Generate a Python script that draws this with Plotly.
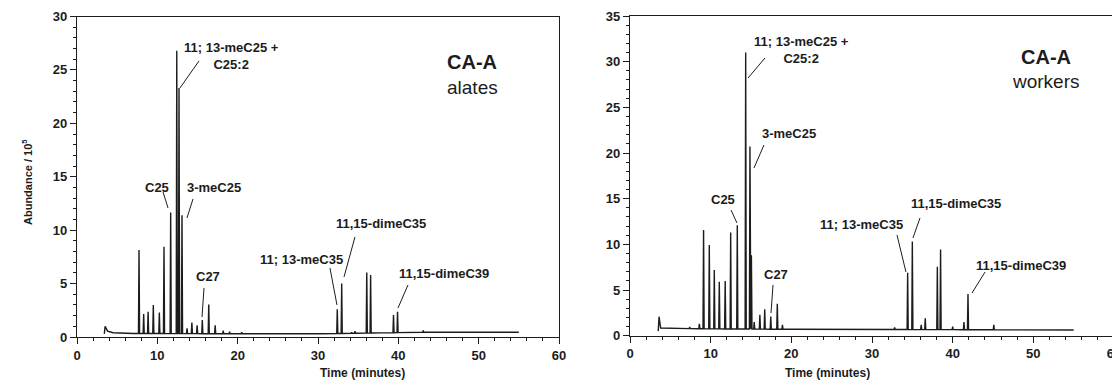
import numpy as np
import plotly.graph_objects as go

# ---------------- data ----------------
# CA-A alates chromatogram: peak retention times (min) and abundances (x10^5)
alates_peak_t = [7.72, 8.3, 8.85, 9.5, 10.25, 10.83, 11.66, 12.42, 12.7, 13.07,
                 13.7, 14.3, 14.95, 15.6, 16.4, 17.2, 18.2, 19.0, 20.5,
                 32.4, 32.95, 34.2, 34.6, 36.07, 36.55, 39.4, 39.9, 43.1]
alates_peak_h = [8.15, 2.15, 2.37, 3.0, 2.3, 8.45, 11.65, 26.8, 23.3, 11.4,
                 0.8, 1.35, 1.1, 1.6, 3.05, 1.1, 0.6, 0.5, 0.45,
                 2.6, 5.0, 0.45, 0.55, 6.03, 5.8, 2.06, 2.37, 0.6]
alates_base_t = [3.4, 3.5, 3.8, 4.5, 7.0, 20.0, 30.0, 35.0, 43.0, 55.0]
alates_base_v = [0.3, 1.0, 0.55, 0.4, 0.33, 0.3, 0.3, 0.35, 0.45, 0.45]

# CA-A workers chromatogram
workers_peak_t = [7.4, 8.6, 9.12, 9.83, 10.45, 11.07, 11.8, 12.48, 13.3, 14.34,
                  14.87, 15.05, 15.4, 16.1, 16.7, 17.45, 18.26, 18.9,
                  32.8, 34.42, 35.0, 36.1, 36.6, 38.1, 38.5, 40.0, 41.4, 41.9, 45.1]
workers_peak_h = [0.95, 1.3, 11.57, 9.93, 7.2, 5.9, 6.0, 11.3, 12.1, 31.0,
                  20.7, 8.8, 1.5, 2.3, 2.9, 2.1, 3.5, 1.2,
                  0.9, 6.9, 10.3, 1.2, 1.9, 7.55, 9.45, 1.0, 1.5, 4.56, 1.2]
workers_base_t = [3.5, 3.6, 3.8, 5.0, 10.0, 20.0, 30.0, 45.0, 55.0]
workers_base_v = [0.5, 2.08, 0.85, 0.8, 0.75, 0.7, 0.68, 0.65, 0.62]

# peak annotations: label, tip time, tip abundance
alates_labels = ["11; 13-meC25 +<br>C25:2", "C25", "3-meC25", "C27",
                 "11; 13-meC35", "11,15-dimeC35", "11,15-dimeC39"]
alates_label_t = [12.82, 11.33, 13.69, 15.56, 32.36, 33.24, 39.96]
alates_label_v = [23.31, 12.08, 11.14, 1.87, 3.0, 5.62, 2.71]

workers_labels = ["11; 13-meC25 +<br>C25:2", "C25", "3-meC25", "C27",
                  "11; 13-meC35", "11,15-dimeC35", "11,15-dimeC39"]
workers_label_t = [14.63, 13.26, 15.37, 17.48, 34.21, 35.08, 42.39]
workers_label_v = [28.21, 12.34, 18.36, 2.48, 6.97, 10.7, 4.67]

x_ticks = [0, 10, 20, 30, 40, 50, 60]

# ---------------- layout helpers ----------------
# leader-line tails and label centres, in data units, parallel to the label lists
alates_tail = [(15.19, 25.84), (10.71, 13.57), (14.44, 12.92), (15.81, 4.59),
               (31.49, 6.46), (34.6, 9.36), (41.2, 4.87)]
alates_text = [(19.17, 26.26), (9.9, 13.95), (17.05, 13.95), (16.25, 5.62),
               (27.95, 7.21), (37.9, 10.67), (45.69, 5.99)]
workers_tail = [(16.73, 30.4), (12.52, 13.76), (16.61, 20.88), (17.73, 5.55),
                (33.1, 11.02), (35.95, 12.89), (44.02, 6.97)]
workers_text = [(21.32, 31.28), (11.47, 14.86), (19.65, 22.19), (18.16, 6.65),
                (28.7, 12.12), (40.47, 14.42), (48.53, 7.74)]

FONT = "Liberation Sans, Arial, sans-serif"
INK = "#1c1c1c"
HW = 0.07  # half width of a peak at its foot (min)

# the page body has an 8 px margin, so the figure is placed from (8, 8)
OFF = 8
W, H = 1120 - OFF, 392 - OFF


def px_x(p):
    return (p - OFF) / W


def px_y(p):
    return 1 - (p - OFF) / H


def trace_points(peak_t, peak_h, base_t, base_v):
    pts = [(t, v) for t, v in zip(base_t, base_v)]
    for t, h in zip(peak_t, peak_h):
        b = float(np.interp(t, base_t, base_v))
        pts += [(t - HW, b), (t, h), (t + HW, b)]
    pts.sort(key=lambda p: p[0])
    return [p[0] for p in pts], [p[1] for p in pts]


fig = go.Figure()

xa, ya = trace_points(alates_peak_t, alates_peak_h, alates_base_t, alates_base_v)
xw, yw = trace_points(workers_peak_t, workers_peak_h, workers_base_t, workers_base_v)

fig.add_trace(go.Scatter(x=xa, y=ya, mode="lines", line=dict(color=INK, width=1.4),
                         xaxis="x", yaxis="y", hoverinfo="skip"))
fig.add_trace(go.Scatter(x=xw, y=yw, mode="lines", line=dict(color=INK, width=1.4),
                         xaxis="x2", yaxis="y2", hoverinfo="skip"))

axis_common = dict(showline=True, linecolor=INK, linewidth=1.3, mirror=True,
                   ticks="outside", ticklen=6, tickwidth=1.2, tickcolor=INK,
                   showgrid=False, zeroline=False, automargin=False,
                   ticklabeloverflow="allow",
                   tickfont=dict(family=FONT, size=13, color=INK, weight="bold"))

fig.update_layout(
    width=W, height=H,
    margin=dict(l=0, r=0, t=0, b=0),
    paper_bgcolor="white", plot_bgcolor="white",
    showlegend=False,
    xaxis=dict(domain=[px_x(77), px_x(559)], range=[0, 60], tickvals=x_ticks,
               minor=dict(ticks="outside", ticklen=3, dtick=2, tickcolor=INK),
               anchor="y", **axis_common),
    yaxis=dict(domain=[px_y(337), px_y(16.5)], range=[0, 30], dtick=5,
               minor=dict(ticks="outside", ticklen=3, dtick=1, tickcolor=INK),
               anchor="x", **axis_common),
    xaxis2=dict(domain=[px_x(630), px_x(1114)], range=[0, 60], tickvals=x_ticks,
                minor=dict(ticks="outside", ticklen=3, dtick=2, tickcolor=INK),
                anchor="y2", **axis_common),
    yaxis2=dict(domain=[px_y(335.7), px_y(16)], range=[0, 35], dtick=5,
                minor=dict(ticks="outside", ticklen=3, dtick=1, tickcolor=INK),
                anchor="x2", **axis_common),
)

label_font = dict(family=FONT, size=13, color=INK, weight="bold")


def add_labels(labels, tip_t, tip_v, tails, texts, xref, yref):
    for lab, t, v, (tt, tv), (cx, cy) in zip(labels, tip_t, tip_v, tails, texts):
        fig.add_shape(type="line", xref=xref, yref=yref, x0=tt, y0=tv, x1=t, y1=v,
                      line=dict(color=INK, width=1))
        fig.add_annotation(x=cx, y=cy, xref=xref, yref=yref, text=lab,
                           showarrow=False, font=label_font, align="center",
                           xanchor="center", yanchor="middle")


add_labels(alates_labels, alates_label_t, alates_label_v, alates_tail, alates_text, "x", "y")
add_labels(workers_labels, workers_label_t, workers_label_v, workers_tail, workers_text, "x2", "y2")

# panel titles
fig.add_annotation(x=49.23, y=25.74, xref="x", yref="y", text="CA-A", showarrow=False,
                   font=dict(family=FONT, size=20, color=INK, weight="bold"))
fig.add_annotation(x=49.23, y=23.4, xref="x", yref="y", text="alates", showarrow=False,
                   font=dict(family=FONT, size=19, color=INK))
fig.add_annotation(x=51.63, y=30.51, xref="x2", yref="y2", text="CA-A", showarrow=False,
                   font=dict(family=FONT, size=20, color=INK, weight="bold"))
fig.add_annotation(x=51.63, y=27.88, xref="x2", yref="y2", text="workers", showarrow=False,
                   font=dict(family=FONT, size=19, color=INK))

# axis titles
title_font = dict(family=FONT, size=12, color=INK, weight="bold")
fig.add_annotation(x=px_x(318), y=px_y(382), xref="paper", yref="paper",
                   text="Time (minutes)", showarrow=False, font=title_font)
fig.add_annotation(x=px_x(872), y=px_y(382), xref="paper", yref="paper",
                   text="Time (minutes)", showarrow=False, font=title_font)
fig.add_annotation(x=px_x(18), y=px_y(182), xref="paper", yref="paper",
                   text="Abundance / 10<sup>5</sup>", showarrow=False, textangle=-90,
                   font=dict(family=FONT, size=11, color=INK, weight="bold"))

fig.write_html("out.html")
